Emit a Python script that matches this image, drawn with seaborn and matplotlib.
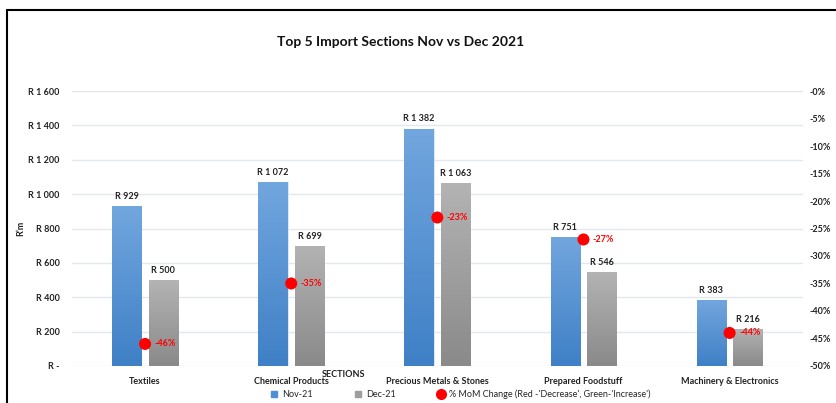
import numpy as np
import pandas as pd
import matplotlib
matplotlib.use("Agg")
import matplotlib.pyplot as plt
import seaborn as sns
from matplotlib.lines import Line2D
from matplotlib.ticker import FuncFormatter

sections = ["Textiles", "Chemical Products", "Precious Metals & Stones",
            "Prepared Foodstuff", "Machinery & Electronics"]
nov_21 = [929, 1072, 1382, 751, 383]
dec_21 = [500, 699, 1063, 546, 216]
mom_change = [-0.46, -0.35, -0.23, -0.27, -0.44]
months = ["Nov-21", "Dec-21"]

df = pd.DataFrame({
    "section": sections * 2,
    "month": [months[0]] * 5 + [months[1]] * 5,
    "value": nov_21 + dec_21,
})

sns.set_style("white")
plt.rcParams["font.family"] = ["Lato", "DejaVu Sans"]

fig = plt.figure(figsize=(8.37, 4.03), dpi=100)
ax = fig.add_axes([0.086, 0.092, 0.873, 0.682])

pal = {"Nov-21": "#4f8fd3", "Dec-21": "#9e9e9e"}
sns.barplot(data=df, x="section", y="value", hue="month", palette=pal,
            width=0.5, gap=0.2, ax=ax, legend=False, saturation=1,
            edgecolor="#e8eef6", linewidth=0.6)

# gradient fill for the bars
grads = {"Nov-21": ("#3f80c6", "#72a6de"), "Dec-21": ("#8a8a8a", "#b3b3b3")}
for cont, m in zip(ax.containers, months):
    lo, hi = grads[m]
    cmap = matplotlib.colors.LinearSegmentedColormap.from_list(m, [lo, hi])
    vals = nov_21 if m == "Nov-21" else dec_21
    for p, v in zip(cont.patches, vals):
        x0, y0 = p.get_x(), p.get_y()
        w, h = p.get_width(), p.get_height()
        g = np.linspace(0, 1, 100).reshape(-1, 1)
        im = ax.imshow(g, cmap=cmap, origin="lower", aspect="auto",
                       extent=[x0, x0 + w, y0, y0 + h], zorder=2)
        im.set_clip_path(p)
        s = f"{v:,}".replace(",", " ")
        ax.text(x0 + w / 2, v + 30, f"R {s}", ha="center", va="bottom",
                fontsize=6.5, fontweight="bold", color="#222222")

ax.set_xlim(-0.5, 4.5)
ax.set_ylim(0, 1600)
ax.set_yticks(np.arange(0, 1601, 200))
ax.yaxis.set_major_formatter(FuncFormatter(
    lambda v, _: "R -" if v == 0 else "R " + f"{int(v):,}".replace(",", " ")))
ax.grid(axis="y", color="#e4e8ec", linewidth=1)
ax.set_axisbelow(True)
for s in ax.spines.values():
    s.set_visible(False)
ax.tick_params(axis="both", length=0, labelsize=6.5, colors="#222222")
ax.tick_params(axis="y", pad=9)
ax.tick_params(axis="x", pad=8)
for t in ax.get_xticklabels() + ax.get_yticklabels():
    t.set_fontweight("bold")
ax.set_xlabel("")
ax.set_ylabel("R\u2019m", fontsize=6.5, fontweight="bold", color="#222222", labelpad=2)

ax2 = ax.twinx()
sns.scatterplot(x=np.arange(len(sections)), y=mom_change, ax=ax2, color="#ff0000",
                s=75, edgecolor="none", zorder=5)
ax2.set_ylim(-0.5, 0)
ax2.set_yticks(np.arange(-0.5, 0.01, 0.05))
ax2.yaxis.set_major_formatter(FuncFormatter(lambda v, _: f"{v * 100:.0f}%"))
ax2.tick_params(axis="y", length=0, labelsize=6.5, colors="#222222", pad=5)
for t in ax2.get_yticklabels():
    t.set_fontweight("bold")
for s in ax2.spines.values():
    s.set_visible(False)
ax2.set_xlim(-0.5, 4.5)
for i, c in enumerate(mom_change):
    ax2.text(i + 0.065, c, f"{c * 100:.0f}%", color="#ff0000", fontsize=6.5,
             fontweight="bold", va="center", ha="left", zorder=6)

fig.text(0.478, 0.896, "Top 5 Import Sections Nov vs Dec 2021", ha="center",
         va="center", fontsize=10, fontweight="bold", color="#111111")
fig.text(0.41, 0.07, "SECTIONS", ha="center", va="center", fontsize=6.5,
         fontweight="bold", color="#222222")

handles = [
    Line2D([], [], marker="s", linestyle="", color="#4f8fd3", markersize=5),
    Line2D([], [], marker="s", linestyle="", color="#9e9e9e", markersize=5),
    Line2D([], [], marker="o", linestyle="", color="#ff0000", markersize=7),
]
labels = ["Nov-21", "Dec-21", "% MoM Change (Red -'Decrease', Green-'Increase')"]
fig.legend(handles, labels, loc="center", bbox_to_anchor=(0.55, 0.022), ncol=3,
           frameon=False, fontsize=6.5, handletextpad=0.5, columnspacing=4.6,
           handlelength=0.8)

# frame lines
fig.add_artist(Line2D([0.008, 1.0], [0.975, 0.975], color="black", lw=1.5,
                      transform=fig.transFigure))
fig.add_artist(Line2D([0.008, 0.008], [0.0, 0.975], color="black", lw=1.5,
                      transform=fig.transFigure))

fig.savefig("out.png", dpi=100)
